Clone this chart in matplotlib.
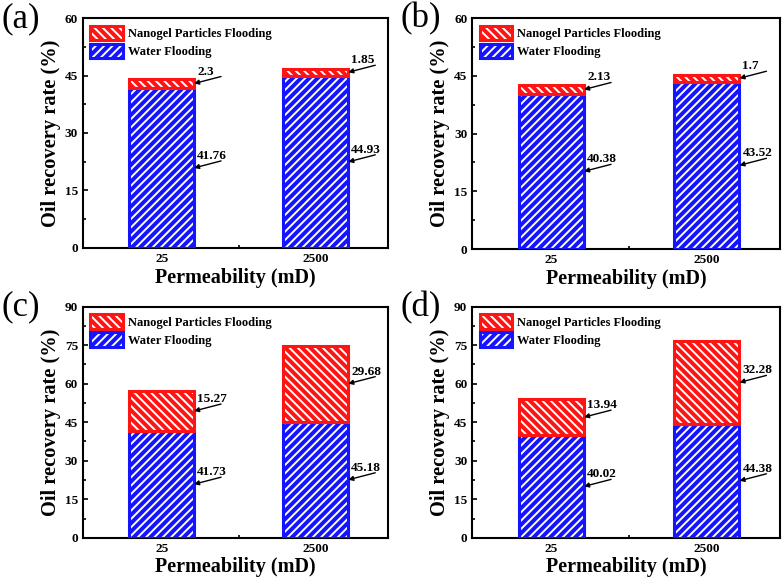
import numpy as np
import matplotlib
matplotlib.use("Agg")
import matplotlib.pyplot as plt
from matplotlib.patches import Patch
from matplotlib.ticker import MultipleLocator, AutoMinorLocator

# -------------------------------------------------------------------
# DATA
# -------------------------------------------------------------------
perm_labels = ["25", "2500"]
panel_tags = ["(a)", "(b)", "(c)", "(d)"]

water_a = [41.76, 44.93]
nano_a = [2.3, 1.85]
water_b = [40.38, 43.52]
nano_b = [2.13, 1.7]
water_c = [41.73, 45.18]
nano_c = [15.27, 29.68]
water_d = [40.02, 44.38]
nano_d = [13.94, 32.28]

# text exactly as printed on the figure
water_txt = [["41.76", "44.93"], ["40.38", "43.52"], ["41.73", "45.18"], ["40.02", "44.38"]]
nano_txt = [["2.3", "1.85"], ["2.13", "1.7"], ["15.27", "29.68"], ["13.94", "32.28"]]

y_max = [60, 60, 90, 90]
y_step = 15

# -------------------------------------------------------------------
# STYLE
# -------------------------------------------------------------------
plt.rcParams["font.family"] = ["Liberation Serif", "DejaVu Serif"]
plt.rcParams["font.weight"] = "bold"
plt.rcParams["hatch.linewidth"] = 1.4
plt.rcParams["axes.linewidth"] = 1.5

RED = "#ff1414"
BLUE = "#1414ff"
BAR_W = 0.42
H_BLUE = "////"
H_RED = "\\\\\\\\"

fig = plt.figure(figsize=(7.83, 5.82), dpi=100)

# axes boxes in figure fractions (left, bottom, width, height)
boxes = [
    (0.106, 0.574, 0.390, 0.395),
    (0.603, 0.572, 0.393, 0.397),
    (0.106, 0.076, 0.390, 0.397),
    (0.603, 0.076, 0.393, 0.397),
]
tag_pos = [(0.027, 0.968), (0.537, 0.968), (0.027, 0.472), (0.537, 0.472)]

water_all = [water_a, water_b, water_c, water_d]
nano_all = [nano_a, nano_b, nano_c, nano_d]


def hatched_bar(ax, x, h, bottom, color, hatch):
    # coloured fill with white hatch, then a coloured outline on top
    ax.bar(x, h, BAR_W, bottom=bottom, color=color, edgecolor="white",
           hatch=hatch, linewidth=0, zorder=2)
    ax.bar(x, h, BAR_W, bottom=bottom, fill=False, edgecolor=color,
           linewidth=2.2, zorder=3)


def tag(ax, x, y, text):
    # number sitting on a slanted leader line that points at the bar
    ax.annotate("", xy=(x, y), xytext=(27, 7), textcoords="offset pixels",
                arrowprops=dict(arrowstyle="-|>", color="black", lw=1.0,
                                mutation_scale=7, shrinkA=0, shrinkB=0),
                zorder=4)
    ax.annotate(text, xy=(x, y), xytext=(3, 6), textcoords="offset pixels",
                ha="left", va="bottom", fontsize=9.5, fontweight="bold",
                zorder=4)


for i in range(4):
    ax = fig.add_axes(boxes[i])
    xs = np.arange(1, len(perm_labels) + 1)
    water = np.array(water_all[i])
    nano = np.array(nano_all[i])

    for j, x in enumerate(xs):
        hatched_bar(ax, x, water[j], 0, BLUE, H_BLUE)
        hatched_bar(ax, x, nano[j], water[j], RED, H_RED)
        xr = x + BAR_W / 2
        tag(ax, xr, water[j] + nano[j] / 2, nano_txt[i][j])
        tag(ax, xr, water[j] / 2, water_txt[i][j])

    ax.set_xlim(0.49, 2.47)
    ax.set_ylim(0, y_max[i])
    ax.set_xticks(xs)
    ax.set_xticklabels(perm_labels)
    ax.set_xticks([1.5], minor=True)
    ax.yaxis.set_major_locator(MultipleLocator(y_step))
    ax.yaxis.set_minor_locator(AutoMinorLocator(2))
    ax.tick_params(which="both", direction="in", labelsize=9.5, width=1.2)
    ax.tick_params(which="major", length=3.5)
    ax.tick_params(which="minor", length=2.5)
    for lab in ax.get_xticklabels() + ax.get_yticklabels():
        lab.set_fontweight("bold")

    ax.set_xlabel("Permeability (mD)", fontsize=14.5, fontweight="bold", labelpad=2)
    ax.set_ylabel("Oil recovery rate (%)", fontsize=14.7, fontweight="bold", labelpad=3)

    # legend: hatched patch + outline overlaid
    h_nano = (Patch(facecolor=RED, edgecolor="white", hatch=H_RED, linewidth=0),
              Patch(fill=False, edgecolor=RED, linewidth=2.2))
    h_water = (Patch(facecolor=BLUE, edgecolor="white", hatch=H_BLUE, linewidth=0),
               Patch(fill=False, edgecolor=BLUE, linewidth=2.2))
    ax.legend([h_nano, h_water], ["Nanogel Particles Flooding", "Water Flooding"],
              loc="upper left", frameon=False, handlelength=2.6,
              handleheight=1.4, labelspacing=0.3, borderpad=0,
              borderaxespad=0.6, handletextpad=0.4,
              prop={"weight": "bold", "size": 9})

    fig.text(tag_pos[i][0], tag_pos[i][1], panel_tags[i], fontsize=25,
             fontweight="normal", ha="center", va="center")

fig.savefig("out.png", dpi=100)
